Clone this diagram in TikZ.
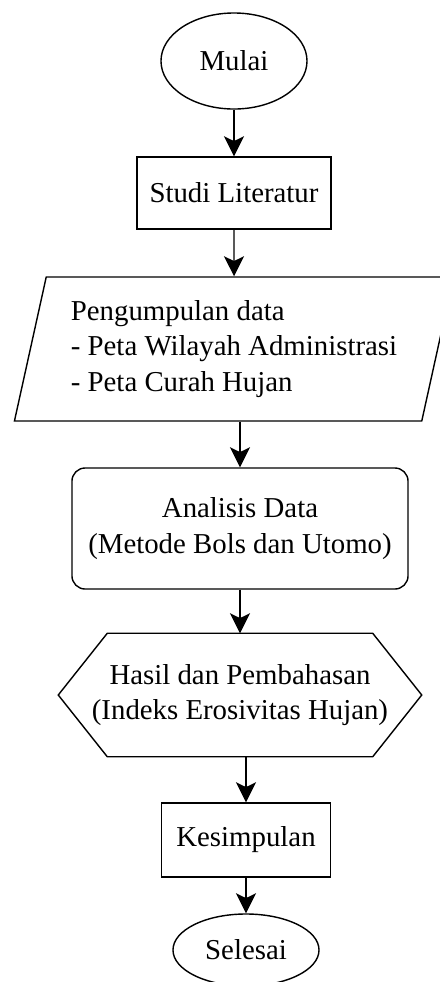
\documentclass[tikz,border=0pt]{standalone}
\usepackage{fontspec}
\setmainfont{Liberation Serif}
\usetikzlibrary{shapes.geometric,arrows.meta}

\begin{document}
\begin{tikzpicture}[x = .025cm, y = -.025cm, line width = 1pt,
    font = \fontsize{20.5}{25.5}\selectfont,
    >={Stealth[length=.5cm, width=.5cm, inset=.12cm]},
    terminal/.style = {draw, ellipse, inner sep=0pt, minimum width=3.65cm},
    proses/.style = {draw, rectangle, inner sep=0pt}]
    \useasboundingbox (0,0) rectangle (440,982);
    \node [terminal, minimum height=2.4cm] (mulai) at (234,61) {Mulai};
    \node [proses, minimum width=4.85cm, minimum height=1.8cm] (studi) at (234,193) {Studi Literatur};
    \node [draw, trapezium, trapezium left angle=72, trapezium right angle=108, trapezium stretches body,
      minimum width=10.975cm, minimum height=3.6cm, inner sep=0pt, align=left] (data) at (234,349)
      {Pengumpulan data\\- Peta Wilayah Administrasi\\- Peta Curah Hujan};
    \node [proses, rounded corners=.33cm, minimum width=8.4cm, minimum height=3.025cm, align=center]
      (analisis) at (240,528.5) {Analisis Data\\(Metode Bols dan Utomo)};
    \node [minimum width=9.05cm, minimum height=3.05cm, inner sep=0pt, align=center]
      (hasil) at (240,695) {Hasil dan Pembahasan\\(Indeks Erosivitas Hujan)};
    \draw (hasil.west) -- ([xshift=1.225cm]hasil.north west) -- ([xshift=-1.225cm]hasil.north east)
      -- (hasil.east) -- ([xshift=-1.225cm]hasil.south east) -- ([xshift=1.225cm]hasil.south west) -- cycle;
    \node [proses, minimum width=4.225cm, minimum height=1.85cm] (kesimpulan) at (246,840) {Kesimpulan};
    \node [terminal, minimum height=1.8cm] (selesai) at (246,950) {Selesai};
    % panah
    \draw [->] (mulai) -- (studi);
    \draw [->] (studi) -- (data);
    \draw [->] (data.south -| analisis.north) -- (analisis);
    \draw [->] (analisis) -- (hasil);
    \draw [->] (hasil.south -| kesimpulan.north) -- (kesimpulan);
    \draw [->] (kesimpulan) -- (selesai);
\end{tikzpicture}
\end{document}
